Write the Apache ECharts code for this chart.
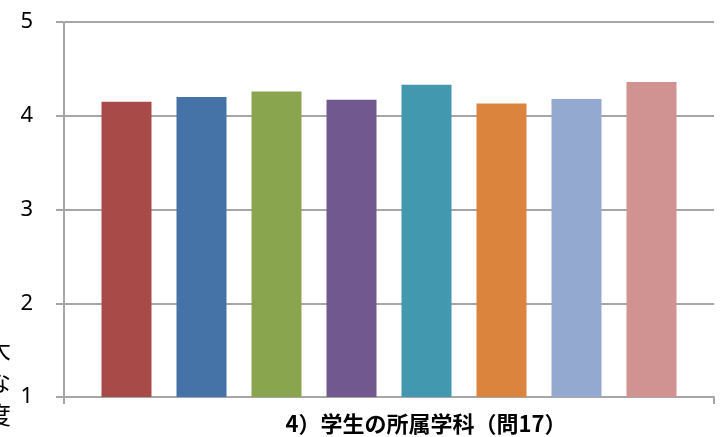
<!DOCTYPE html>
<html>
<head>
<meta charset="utf-8">
<script src="https://cdn.jsdelivr.net/npm/echarts@6/dist/echarts.min.js"></script>
<style>
html,body{margin:0;padding:0;background:#fff;}
#chart{width:723px;height:437px;}
</style>
</head>
<body>
<div id="chart"></div>
<script>
// 学科ごとの平均値 (問17)
var categories = ['学科1','学科2','学科3','学科4','学科5','学科6','学科7','学科8'];
var values = [4.15, 4.20, 4.26, 4.17, 4.33, 4.13, 4.18, 4.36];
var barColors = ['#A84A47','#4573A7','#89A54E','#71588F','#4198AF','#DB843D','#93A9CF','#D19392'];
var yTicks = [1, 2, 3, 4, 5];
var xTitle = '4）学生の所属学科（問17）';
var yTitleClipped = '大\nな\n度';

var gridColor = '#a6a6a6';
var chart = echarts.init(document.getElementById('chart'));

var option = {
	animation: false,
	backgroundColor: '#fff',
	grid: [
		{ left: 64, right: 9, top: 22, bottom: 40 },
		{ left: 89, width: 600, top: 22, bottom: 40 }
	],
	xAxis: [
		{
			gridIndex: 0,
			type: 'value',
			min: 0, max: 1, interval: 1,
			axisLine: { show: true, lineStyle: { color: gridColor, width: 2 } },
			axisTick: { show: true, length: 7, lineStyle: { color: gridColor, width: 2 } },
			axisLabel: { show: false },
			splitLine: { show: false }
		},
		{
			gridIndex: 1,
			type: 'category',
			data: categories,
			show: false
		}
	],
	yAxis: [
		{
			gridIndex: 0,
			type: 'value',
			min: yTicks[0], max: yTicks[yTicks.length - 1], interval: 1,
			axisLine: { show: true, lineStyle: { color: gridColor, width: 2 } },
			axisTick: { show: true, length: 8, lineStyle: { color: gridColor, width: 2 } },
			axisLabel: { margin: 31, color: '#000', fontSize: 22, fontFamily: 'Noto Sans' },
			splitLine: { show: true, lineStyle: { color: gridColor, width: 2 } }
		},
		{
			gridIndex: 1,
			type: 'value',
			min: yTicks[0], max: yTicks[yTicks.length - 1],
			show: false,
			splitLine: { show: false }
		}
	],
	series: [
		{
			type: 'bar',
			xAxisIndex: 1,
			yAxisIndex: 1,
			barWidth: 50,
			data: values.map(function (v, i) {
				return { value: v, itemStyle: { color: barColors[i] } };
			})
		}
	],
	graphic: [
		{
			type: 'text',
			style: {
				text: xTitle,
				x: 426, y: 424,
				align: 'center', verticalAlign: 'middle',
				font: 'bold 22px "Noto Sans CJK JP"',
				fill: '#000'
			}
		},
		{
			type: 'text',
			style: {
				text: yTitleClipped,
				x: -1, y: 332,
				align: 'center', verticalAlign: 'top',
				font: '24px "Noto Sans CJK JP"',
				lineHeight: 33,
				fill: '#000'
			}
		}
	]
};
chart.setOption(option);
</script>
</body>
</html>
